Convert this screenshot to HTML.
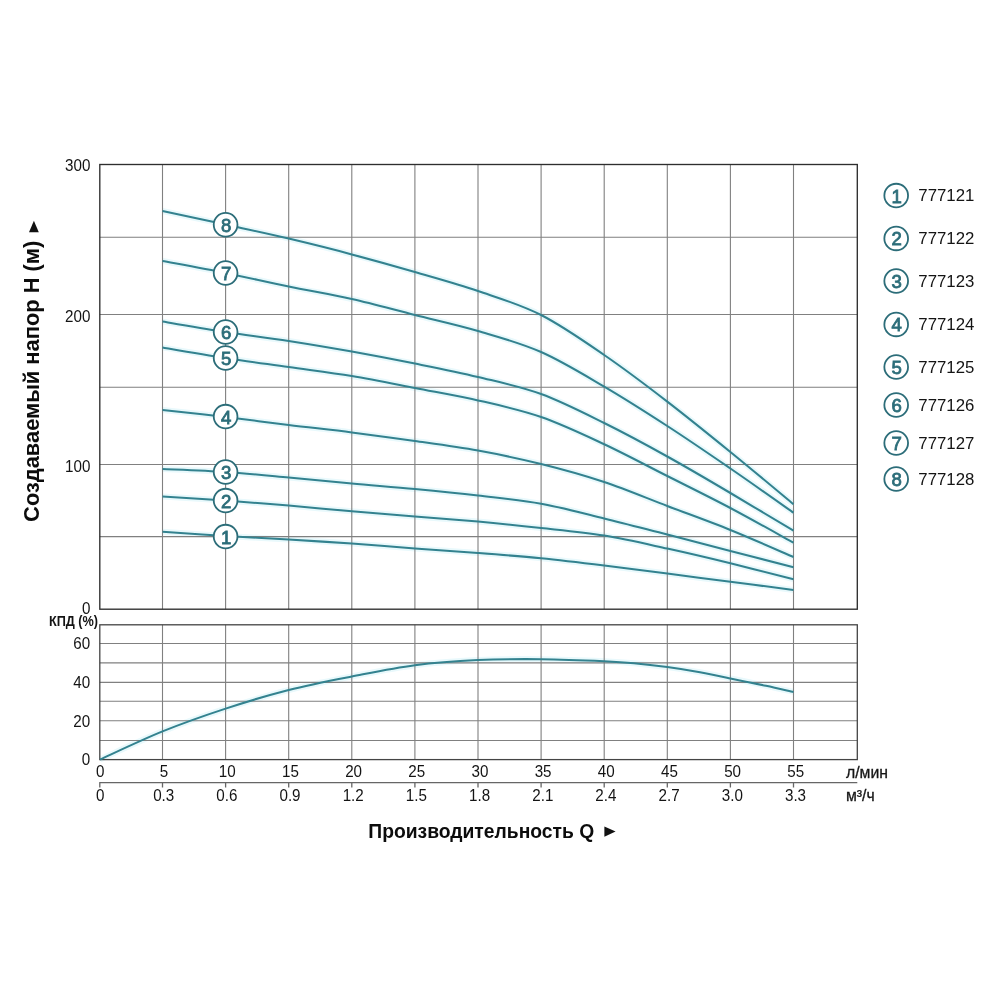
<!DOCTYPE html>
<html lang="ru"><head><meta charset="utf-8"><title>График</title>
<style>html,body{margin:0;padding:0;background:#fff}svg{display:block;will-change:transform}text{font-family:"Liberation Sans",Arial,sans-serif;fill:#141414}.n{font-size:16px}.b{font-weight:bold}.c{fill:#2c6d79;stroke:#2c6d79;stroke-width:.8px;font-size:18.6px;text-anchor:middle}.m{text-anchor:middle}.e{text-anchor:end}.lg{font-size:16.8px}</style></head><body>
<svg width="1000" height="1000" viewBox="0 0 1000 1000">
<rect width="1000" height="1000" fill="#fff"/>
<path d="M162.5 531.8C173.0 532.5 204.6 534.7 225.6 536.0C246.6 537.3 267.7 538.2 288.7 539.5C309.7 540.8 330.8 542.1 351.8 543.6C372.8 545.1 393.9 546.8 414.9 548.4C435.9 550.0 457.0 551.4 478.0 553.0C499.0 554.6 520.1 556.2 541.1 558.3C562.1 560.4 583.2 563.0 604.2 565.6C625.2 568.2 646.3 570.9 667.3 573.6C688.3 576.3 709.4 579.0 730.4 581.7C751.4 584.4 783.0 588.6 793.5 590.0M162.5 496.6C173.0 497.3 204.6 499.1 225.6 500.6C246.6 502.1 267.7 503.8 288.7 505.6C309.7 507.4 330.8 509.5 351.8 511.3C372.8 513.1 393.9 514.7 414.9 516.4C435.9 518.1 457.0 519.7 478.0 521.6C499.0 523.5 520.1 525.7 541.1 528.0C562.1 530.3 583.2 532.2 604.2 535.6C625.2 539.0 646.3 544.0 667.3 548.6C688.3 553.2 709.4 558.2 730.4 563.3C751.4 568.4 783.0 576.6 793.5 579.2M162.5 469.0C173.0 469.5 204.6 470.6 225.6 472.0C246.6 473.4 267.7 475.5 288.7 477.4C309.7 479.3 330.8 481.7 351.8 483.6C372.8 485.5 393.9 487.0 414.9 489.0C435.9 491.0 457.0 493.1 478.0 495.6C499.0 498.1 520.1 500.0 541.1 503.8C562.1 507.6 583.2 513.3 604.2 518.4C625.2 523.5 646.3 529.2 667.3 534.6C688.3 540.0 709.4 545.6 730.4 551.0C751.4 556.4 783.0 564.5 793.5 567.2M162.5 410.0C173.0 411.2 204.6 414.5 225.6 417.0C246.6 419.5 267.7 422.4 288.7 425.0C309.7 427.6 330.8 429.7 351.8 432.4C372.8 435.1 393.9 438.0 414.9 441.0C435.9 444.0 457.0 446.8 478.0 450.6C499.0 454.4 520.1 458.8 541.1 464.0C562.1 469.2 583.2 475.0 604.2 482.0C625.2 489.0 646.3 498.0 667.3 506.0C688.3 514.0 709.4 521.5 730.4 530.0C751.4 538.5 783.0 552.5 793.5 557.0M162.5 347.4C173.0 349.2 204.6 354.7 225.6 358.0C246.6 361.3 267.7 364.0 288.7 367.0C309.7 370.0 330.8 372.5 351.8 376.0C372.8 379.5 393.9 383.9 414.9 388.0C435.9 392.1 457.0 395.6 478.0 400.4C499.0 405.2 520.1 409.7 541.1 417.0C562.1 424.3 583.2 434.4 604.2 444.2C625.2 454.0 646.3 465.4 667.3 476.0C688.3 486.6 709.4 496.9 730.4 508.0C751.4 519.1 783.0 536.9 793.5 542.7M162.5 321.6C173.0 323.3 204.6 328.8 225.6 332.0C246.6 335.2 267.7 337.7 288.7 341.0C309.7 344.3 330.8 347.8 351.8 351.6C372.8 355.4 393.9 359.4 414.9 363.6C435.9 367.8 457.0 371.9 478.0 377.0C499.0 382.1 520.1 386.3 541.1 394.0C562.1 401.7 583.2 412.6 604.2 423.0C625.2 433.4 646.3 444.8 667.3 456.5C688.3 468.2 709.4 480.6 730.4 493.0C751.4 505.4 783.0 524.4 793.5 530.7M162.5 261.0C173.0 263.0 204.6 268.7 225.6 273.0C246.6 277.3 267.7 282.3 288.7 286.6C309.7 290.9 330.8 294.3 351.8 299.0C372.8 303.7 393.9 309.7 414.9 315.0C435.9 320.3 457.0 324.8 478.0 331.0C499.0 337.2 520.1 342.7 541.1 352.0C562.1 361.3 583.2 374.3 604.2 386.6C625.2 398.9 646.3 412.4 667.3 426.0C688.3 439.6 709.4 454.1 730.4 468.5C751.4 482.9 783.0 505.3 793.5 512.7M162.5 211.0C173.0 213.3 204.6 220.0 225.6 224.6C246.6 229.2 267.7 233.6 288.7 238.6C309.7 243.6 330.8 248.8 351.8 254.4C372.8 260.0 393.9 265.9 414.9 272.0C435.9 278.1 457.0 283.8 478.0 291.0C499.0 298.2 520.1 304.3 541.1 315.0C562.1 325.7 583.2 340.6 604.2 355.0C625.2 369.4 646.3 385.4 667.3 401.6C688.3 417.8 709.4 434.9 730.4 452.0C751.4 469.1 783.0 495.5 793.5 504.2M100.0 759.5C110.4 754.8 141.6 739.9 162.5 731.4C183.4 722.9 204.6 715.5 225.6 708.6C246.6 701.7 267.7 695.4 288.7 690.0C309.7 684.6 330.8 680.6 351.8 676.5C372.8 672.4 393.9 667.9 414.9 665.2C435.9 662.5 457.0 661.1 478.0 660.1C499.0 659.1 520.0 659.0 541.0 659.2C562.0 659.4 588.7 660.5 604.2 661.2C619.7 661.9 623.5 662.2 634.0 663.2C644.5 664.2 656.3 665.6 667.3 667.1C678.3 668.6 689.5 670.4 700.0 672.3C710.5 674.2 719.4 676.1 730.4 678.4C741.4 680.6 755.5 683.5 766.0 685.8C776.5 688.0 788.9 690.9 793.5 691.9" stroke="#e9f9fc" stroke-width="6" fill="none" stroke-linecap="butt"/>
<path d="M162.5 164.5 V609.2M162.5 624.8 V759.6M225.6 164.5 V609.2M225.6 624.8 V759.6M288.7 164.5 V609.2M288.7 624.8 V759.6M351.8 164.5 V609.2M351.8 624.8 V759.6M414.9 164.5 V609.2M414.9 624.8 V759.6M478.0 164.5 V609.2M478.0 624.8 V759.6M541.1 164.5 V609.2M541.1 624.8 V759.6M604.2 164.5 V609.2M604.2 624.8 V759.6M667.3 164.5 V609.2M667.3 624.8 V759.6M730.4 164.5 V609.2M730.4 624.8 V759.6M793.5 164.5 V609.2M793.5 624.8 V759.6M99.8 237.3 H857.3M99.8 314.5 H857.3M99.8 387.3 H857.3M99.8 464.5 H857.3M99.8 536.6 H857.3M99.8 643.5 H857.3M99.8 662.9 H857.3M99.8 682.4 H857.3M99.8 701.3 H857.3M99.8 720.8 H857.3M99.8 740.5 H857.3" stroke="#808080" stroke-width="1.1" fill="none"/>
<path d="M99.2 782.7H857.3M99.8 782.7V787.6M162.5 782.7V787.6M225.6 782.7V787.6M288.7 782.7V787.6M351.8 782.7V787.6M414.9 782.7V787.6M478.0 782.7V787.6M541.1 782.7V787.6M604.2 782.7V787.6M667.3 782.7V787.6M730.4 782.7V787.6M793.5 782.7V787.6" stroke="#666" stroke-width="1.3" fill="none"/>
<rect x="99.8" y="164.5" width="757.5" height="444.7" fill="none" stroke="#2e2e2e" stroke-width="1.35"/>
<rect x="99.8" y="624.8" width="757.5" height="134.8" fill="none" stroke="#444" stroke-width="1.3"/>
<path d="M162.5 531.8C173.0 532.5 204.6 534.7 225.6 536.0C246.6 537.3 267.7 538.2 288.7 539.5C309.7 540.8 330.8 542.1 351.8 543.6C372.8 545.1 393.9 546.8 414.9 548.4C435.9 550.0 457.0 551.4 478.0 553.0C499.0 554.6 520.1 556.2 541.1 558.3C562.1 560.4 583.2 563.0 604.2 565.6C625.2 568.2 646.3 570.9 667.3 573.6C688.3 576.3 709.4 579.0 730.4 581.7C751.4 584.4 783.0 588.6 793.5 590.0" stroke="#33828f" stroke-width="2.05" fill="none"/>
<path d="M162.5 496.6C173.0 497.3 204.6 499.1 225.6 500.6C246.6 502.1 267.7 503.8 288.7 505.6C309.7 507.4 330.8 509.5 351.8 511.3C372.8 513.1 393.9 514.7 414.9 516.4C435.9 518.1 457.0 519.7 478.0 521.6C499.0 523.5 520.1 525.7 541.1 528.0C562.1 530.3 583.2 532.2 604.2 535.6C625.2 539.0 646.3 544.0 667.3 548.6C688.3 553.2 709.4 558.2 730.4 563.3C751.4 568.4 783.0 576.6 793.5 579.2" stroke="#33828f" stroke-width="2.05" fill="none"/>
<path d="M162.5 469.0C173.0 469.5 204.6 470.6 225.6 472.0C246.6 473.4 267.7 475.5 288.7 477.4C309.7 479.3 330.8 481.7 351.8 483.6C372.8 485.5 393.9 487.0 414.9 489.0C435.9 491.0 457.0 493.1 478.0 495.6C499.0 498.1 520.1 500.0 541.1 503.8C562.1 507.6 583.2 513.3 604.2 518.4C625.2 523.5 646.3 529.2 667.3 534.6C688.3 540.0 709.4 545.6 730.4 551.0C751.4 556.4 783.0 564.5 793.5 567.2" stroke="#33828f" stroke-width="2.05" fill="none"/>
<path d="M162.5 410.0C173.0 411.2 204.6 414.5 225.6 417.0C246.6 419.5 267.7 422.4 288.7 425.0C309.7 427.6 330.8 429.7 351.8 432.4C372.8 435.1 393.9 438.0 414.9 441.0C435.9 444.0 457.0 446.8 478.0 450.6C499.0 454.4 520.1 458.8 541.1 464.0C562.1 469.2 583.2 475.0 604.2 482.0C625.2 489.0 646.3 498.0 667.3 506.0C688.3 514.0 709.4 521.5 730.4 530.0C751.4 538.5 783.0 552.5 793.5 557.0" stroke="#33828f" stroke-width="2.05" fill="none"/>
<path d="M162.5 347.4C173.0 349.2 204.6 354.7 225.6 358.0C246.6 361.3 267.7 364.0 288.7 367.0C309.7 370.0 330.8 372.5 351.8 376.0C372.8 379.5 393.9 383.9 414.9 388.0C435.9 392.1 457.0 395.6 478.0 400.4C499.0 405.2 520.1 409.7 541.1 417.0C562.1 424.3 583.2 434.4 604.2 444.2C625.2 454.0 646.3 465.4 667.3 476.0C688.3 486.6 709.4 496.9 730.4 508.0C751.4 519.1 783.0 536.9 793.5 542.7" stroke="#33828f" stroke-width="2.05" fill="none"/>
<path d="M162.5 321.6C173.0 323.3 204.6 328.8 225.6 332.0C246.6 335.2 267.7 337.7 288.7 341.0C309.7 344.3 330.8 347.8 351.8 351.6C372.8 355.4 393.9 359.4 414.9 363.6C435.9 367.8 457.0 371.9 478.0 377.0C499.0 382.1 520.1 386.3 541.1 394.0C562.1 401.7 583.2 412.6 604.2 423.0C625.2 433.4 646.3 444.8 667.3 456.5C688.3 468.2 709.4 480.6 730.4 493.0C751.4 505.4 783.0 524.4 793.5 530.7" stroke="#33828f" stroke-width="2.05" fill="none"/>
<path d="M162.5 261.0C173.0 263.0 204.6 268.7 225.6 273.0C246.6 277.3 267.7 282.3 288.7 286.6C309.7 290.9 330.8 294.3 351.8 299.0C372.8 303.7 393.9 309.7 414.9 315.0C435.9 320.3 457.0 324.8 478.0 331.0C499.0 337.2 520.1 342.7 541.1 352.0C562.1 361.3 583.2 374.3 604.2 386.6C625.2 398.9 646.3 412.4 667.3 426.0C688.3 439.6 709.4 454.1 730.4 468.5C751.4 482.9 783.0 505.3 793.5 512.7" stroke="#33828f" stroke-width="2.05" fill="none"/>
<path d="M162.5 211.0C173.0 213.3 204.6 220.0 225.6 224.6C246.6 229.2 267.7 233.6 288.7 238.6C309.7 243.6 330.8 248.8 351.8 254.4C372.8 260.0 393.9 265.9 414.9 272.0C435.9 278.1 457.0 283.8 478.0 291.0C499.0 298.2 520.1 304.3 541.1 315.0C562.1 325.7 583.2 340.6 604.2 355.0C625.2 369.4 646.3 385.4 667.3 401.6C688.3 417.8 709.4 434.9 730.4 452.0C751.4 469.1 783.0 495.5 793.5 504.2" stroke="#33828f" stroke-width="2.05" fill="none"/>
<path d="M100.0 759.5C110.4 754.8 141.6 739.9 162.5 731.4C183.4 722.9 204.6 715.5 225.6 708.6C246.6 701.7 267.7 695.4 288.7 690.0C309.7 684.6 330.8 680.6 351.8 676.5C372.8 672.4 393.9 667.9 414.9 665.2C435.9 662.5 457.0 661.1 478.0 660.1C499.0 659.1 520.0 659.0 541.0 659.2C562.0 659.4 588.7 660.5 604.2 661.2C619.7 661.9 623.5 662.2 634.0 663.2C644.5 664.2 656.3 665.6 667.3 667.1C678.3 668.6 689.5 670.4 700.0 672.3C710.5 674.2 719.4 676.1 730.4 678.4C741.4 680.6 755.5 683.5 766.0 685.8C776.5 688.0 788.9 690.9 793.5 691.9" stroke="#33828f" stroke-width="2.05" fill="none"/>
<circle cx="225.6" cy="224.8" r="11.85" fill="#fff" stroke="#2c6d79" stroke-width="1.8"/>
<text class="c" x="226.1" y="231.7">8</text>
<circle cx="225.6" cy="273.0" r="11.85" fill="#fff" stroke="#2c6d79" stroke-width="1.8"/>
<text class="c" x="226.1" y="279.9">7</text>
<circle cx="225.6" cy="332.0" r="11.85" fill="#fff" stroke="#2c6d79" stroke-width="1.8"/>
<text class="c" x="226.1" y="338.9">6</text>
<circle cx="225.6" cy="358.0" r="11.85" fill="#fff" stroke="#2c6d79" stroke-width="1.8"/>
<text class="c" x="226.1" y="364.9">5</text>
<circle cx="225.6" cy="416.6" r="11.85" fill="#fff" stroke="#2c6d79" stroke-width="1.8"/>
<text class="c" x="226.1" y="423.5">4</text>
<circle cx="225.6" cy="472.0" r="11.85" fill="#fff" stroke="#2c6d79" stroke-width="1.8"/>
<text class="c" x="226.1" y="478.9">3</text>
<circle cx="225.6" cy="500.6" r="11.85" fill="#fff" stroke="#2c6d79" stroke-width="1.8"/>
<text class="c" x="226.1" y="507.5">2</text>
<circle cx="225.6" cy="536.6" r="11.85" fill="#fff" stroke="#2c6d79" stroke-width="1.8"/>
<text class="c" x="226.1" y="543.5">1</text>
<circle cx="896.2" cy="195.6" r="11.85" fill="#fff" stroke="#2c6d79" stroke-width="1.8"/>
<text class="c" x="896.6" y="202.5">1</text>
<text class="lg" x="918.3" y="201.2">777121</text>
<circle cx="896.2" cy="238.4" r="11.85" fill="#fff" stroke="#2c6d79" stroke-width="1.8"/>
<text class="c" x="896.6" y="245.3">2</text>
<text class="lg" x="918.3" y="244.0">777122</text>
<circle cx="896.2" cy="281.0" r="11.85" fill="#fff" stroke="#2c6d79" stroke-width="1.8"/>
<text class="c" x="896.6" y="287.9">3</text>
<text class="lg" x="918.3" y="286.6">777123</text>
<circle cx="896.2" cy="324.4" r="11.85" fill="#fff" stroke="#2c6d79" stroke-width="1.8"/>
<text class="c" x="896.6" y="331.3">4</text>
<text class="lg" x="918.3" y="330.0">777124</text>
<circle cx="896.2" cy="367.0" r="11.85" fill="#fff" stroke="#2c6d79" stroke-width="1.8"/>
<text class="c" x="896.6" y="373.9">5</text>
<text class="lg" x="918.3" y="372.6">777125</text>
<circle cx="896.2" cy="405.0" r="11.85" fill="#fff" stroke="#2c6d79" stroke-width="1.8"/>
<text class="c" x="896.6" y="411.9">6</text>
<text class="lg" x="918.3" y="410.6">777126</text>
<circle cx="896.2" cy="443.0" r="11.85" fill="#fff" stroke="#2c6d79" stroke-width="1.8"/>
<text class="c" x="896.6" y="449.9">7</text>
<text class="lg" x="918.3" y="448.6">777127</text>
<circle cx="896.2" cy="479.0" r="11.85" fill="#fff" stroke="#2c6d79" stroke-width="1.8"/>
<text class="c" x="896.6" y="485.9">8</text>
<text class="lg" x="918.3" y="484.6">777128</text>
<text class="n e" transform="translate(90.4 171.3) scale(.95 1)">300</text>
<text class="n e" transform="translate(90.4 322.3) scale(.95 1)">200</text>
<text class="n e" transform="translate(90.4 471.6) scale(.95 1)">100</text>
<text class="n e" transform="translate(90.4 614.0) scale(.95 1)">0</text>
<text class="n e" transform="translate(90.2 648.8) scale(.95 1)">60</text>
<text class="n e" transform="translate(90.2 688.2) scale(.95 1)">40</text>
<text class="n e" transform="translate(90.2 726.5) scale(.95 1)">20</text>
<text class="n e" transform="translate(90.2 765.1) scale(.95 1)">0</text>
<text class="n m" transform="translate(100.2 776.6) scale(.95 1)">0</text>
<text class="n m" transform="translate(100.2 800.6) scale(.95 1)">0</text>
<text class="n m" transform="translate(164.1 776.6) scale(.95 1)">5</text>
<text class="n m" transform="translate(163.7 800.6) scale(.95 1)">0.3</text>
<text class="n m" transform="translate(227.2 776.6) scale(.95 1)">10</text>
<text class="n m" transform="translate(226.9 800.6) scale(.95 1)">0.6</text>
<text class="n m" transform="translate(290.4 776.6) scale(.95 1)">15</text>
<text class="n m" transform="translate(290.0 800.6) scale(.95 1)">0.9</text>
<text class="n m" transform="translate(353.6 776.6) scale(.95 1)">20</text>
<text class="n m" transform="translate(353.2 800.6) scale(.95 1)">1.2</text>
<text class="n m" transform="translate(416.8 776.6) scale(.95 1)">25</text>
<text class="n m" transform="translate(416.4 800.6) scale(.95 1)">1.5</text>
<text class="n m" transform="translate(479.9 776.6) scale(.95 1)">30</text>
<text class="n m" transform="translate(479.6 800.6) scale(.95 1)">1.8</text>
<text class="n m" transform="translate(543.1 776.6) scale(.95 1)">35</text>
<text class="n m" transform="translate(542.8 800.6) scale(.95 1)">2.1</text>
<text class="n m" transform="translate(606.3 776.6) scale(.95 1)">40</text>
<text class="n m" transform="translate(605.9 800.6) scale(.95 1)">2.4</text>
<text class="n m" transform="translate(669.4 776.6) scale(.95 1)">45</text>
<text class="n m" transform="translate(669.1 800.6) scale(.95 1)">2.7</text>
<text class="n m" transform="translate(732.6 776.6) scale(.95 1)">50</text>
<text class="n m" transform="translate(732.3 800.6) scale(.95 1)">3.0</text>
<text class="n m" transform="translate(795.8 776.6) scale(.95 1)">55</text>
<text class="n m" transform="translate(795.5 800.6) scale(.95 1)">3.3</text>
<text class="n" x="846" y="777.7" style="font-size:15.8px;stroke:#1a1a1a;stroke-width:.3px">л/мин</text>
<text class="n" x="846" y="800.5" style="font-size:15.8px;stroke:#1a1a1a;stroke-width:.3px">м³/ч</text>
<text class="b" x="48.9" y="625.9" style="font-size:14.8px" textLength="49.2" lengthAdjust="spacingAndGlyphs">КПД (%)</text>
<text class="b" x="368.3" y="838.3" style="font-size:19.3px;fill:#0c0c0c">Производительность Q</text>
<path d="M604.4 826.5L615.6 831.6L604.4 836.7Z" fill="#111"/>
<text class="b" transform="translate(38.7 521.9) rotate(-90) scale(1.0125 1)" style="font-size:21.6px;fill:#0c0c0c">Создаваемый напор H (м)</text>
<path d="M29 232.2L33.9 220.8L38.8 232.2Z" fill="#111"/>
</svg></body></html>
